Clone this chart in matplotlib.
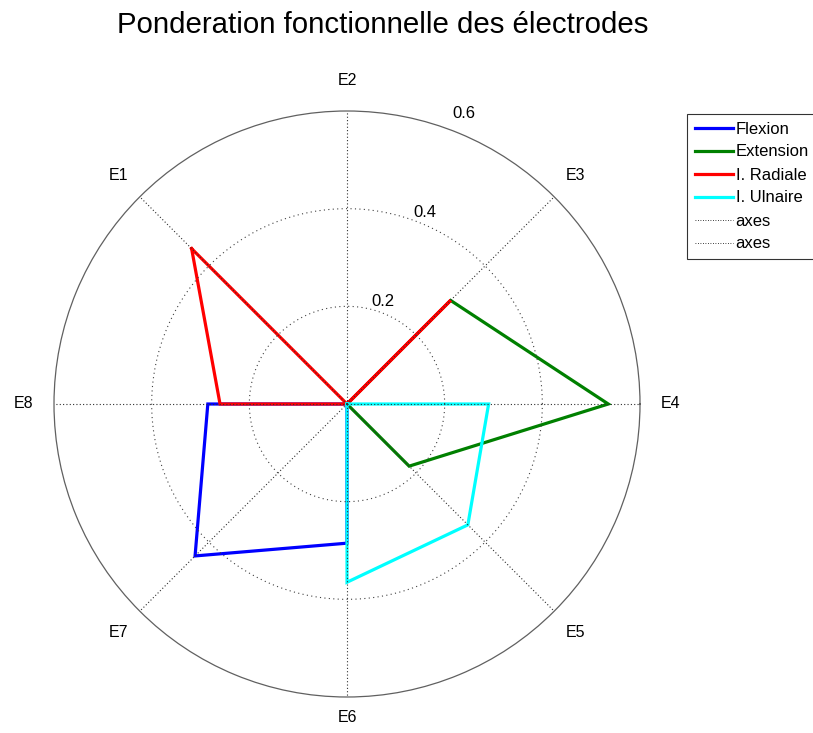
import numpy as np
import matplotlib
matplotlib.use("Agg")
import matplotlib.pyplot as plt

plt.rcParams['font.family'] = ['Liberation Sans', 'DejaVu Sans']

electrodes = ['E1', 'E2', 'E3', 'E4', 'E5', 'E6', 'E7', 'E8']
angles_deg = [135, 90, 45, 0, -45, -90, -135, 180]
flexion = [0, 0, 0, 0, 0, 0.285, 0.44, 0.285]
extension = [0, 0, 0.30, 0.535, 0.18, 0, 0, 0]
radiale = [0.45, 0, 0.30, 0, 0, 0, 0, 0.26]
ulnaire = [0, 0, 0, 0.29, 0.35, 0.365, 0, 0]
series_names = ['Flexion', 'Extension', 'I. Radiale', 'I. Ulnaire']
series_colors = ['#0000ff', '#008000', '#ff0000', '#00ffff']
rticks = [0.2, 0.4, 0.6]
rmax = 0.6

fig = plt.figure(figsize=(8.13, 7.33), dpi=100)
ax = fig.add_axes([54/813, 36/733, 586/813, 586/733], projection='polar')
ax.set_ylim(0, rmax)
ax.grid(False)
ax.set_xticks([])
ax.set_yticks([])
ax.spines['polar'].set_color('#606060')
ax.spines['polar'].set_linewidth(0.9)

theta = np.deg2rad(angles_deg + [angles_deg[0]])
for vals, name, col in zip([flexion, extension, radiale, ulnaire], series_names, series_colors):
    ax.plot(theta, vals + [vals[0]], color=col, lw=2.3, label=name, zorder=3,
            solid_joinstyle='miter')

# dotted grid circles
tt = np.linspace(0, 2*np.pi, 400)
for r in rticks[:-1]:
    ax.plot(tt, np.full_like(tt, r), color='#404040', lw=0.8, ls=(0, (1, 3)), zorder=4)
# dotted spokes
for a in angles_deg:
    t = np.deg2rad(a)
    ax.plot([t, t], [0, rmax], color='#303030', lw=0.8, ls=(0, (1, 2)), zorder=5)

# legend dummy "axes" entries
ax.plot([], [], color='black', lw=0.6, ls=(0, (1, 2)), label='axes')
ax.plot([], [], color='black', lw=0.6, ls=(0, (1, 2)), label='axes')

# electrode labels
for name, a in zip(electrodes, angles_deg):
    rr = 0.643 if a == -90 else 0.663
    ax.text(np.deg2rad(a), rr, name, ha='center', va='center', fontsize=11.5, clip_on=False)

# radial tick labels
for r in rticks:
    rl = r + (0.041 if r == rmax else 0.023)
    ang = 71 if r == rticks[0] else 68
    ax.text(np.deg2rad(ang), rl, f'{r:.1f}', ha='center', va='center', fontsize=12, clip_on=False)

fig.text(383/813, 1 - 25/733, 'Ponderation fonctionnelle des électrodes', ha='center', va='center', fontsize=21.2)

x0, x1 = 687/813, 830/813
y1, y0 = 1 - 114/733, 1 - 256/733
leg = fig.legend(loc='upper left', bbox_to_anchor=(x0, y0, x1 - x0, y1 - y0), mode='expand',
                 fontsize=12, frameon=True, fancybox=False, handlelength=2.28, handletextpad=0.18,
                 labelspacing=0.48, borderpad=0.45, borderaxespad=0)
leg.get_frame().set_edgecolor('black')
leg.get_frame().set_linewidth(0.8)

fig.savefig('out.png', dpi=100)
